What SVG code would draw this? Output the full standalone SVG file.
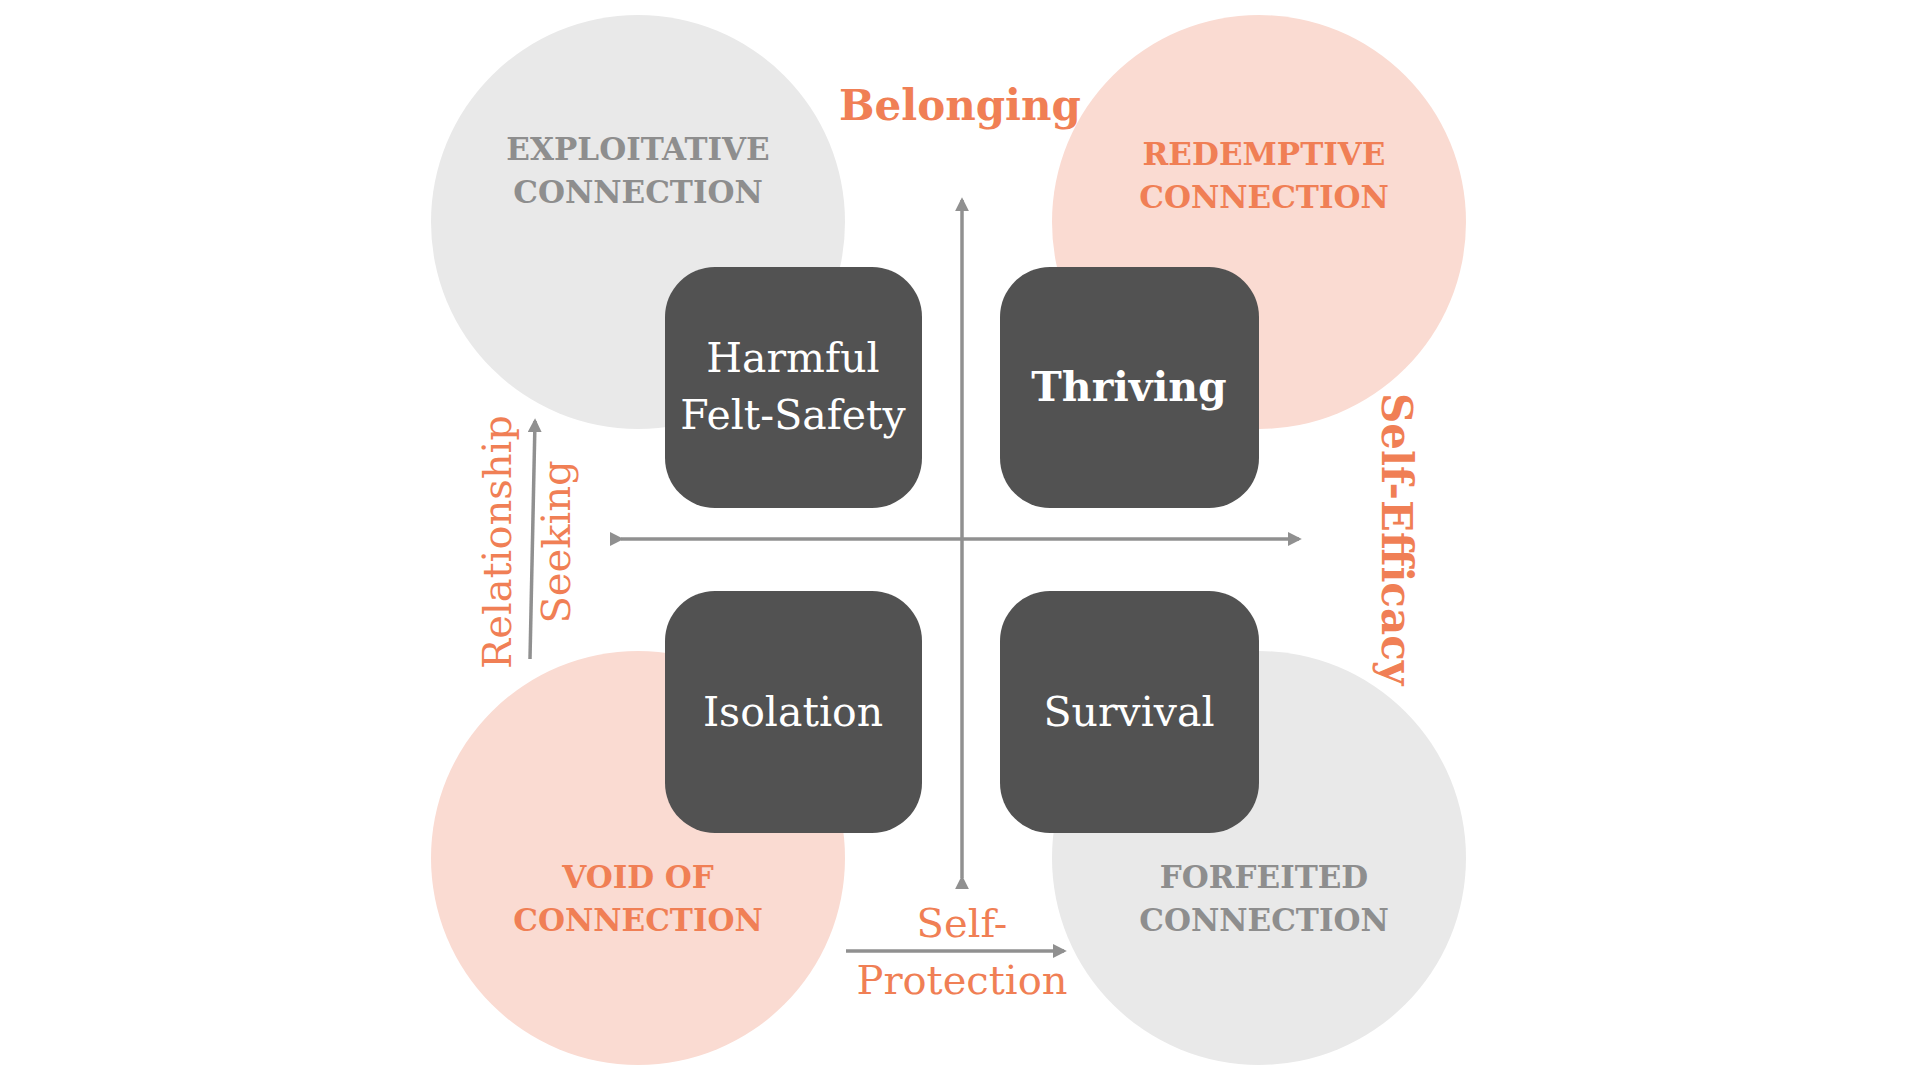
<svg xmlns="http://www.w3.org/2000/svg" width="1920" height="1080" viewBox="0 0 1920 1080">
<style>
.t{font-family:"DejaVu Serif","Liberation Serif",serif;text-anchor:middle}
.o{fill:#F07F55}
.g{fill:#8E8E8E}
.c{font-size:31px;font-weight:bold}
.b{fill:#525252}
.w{fill:#fff;font-size:41px}
.ax{stroke:#909090;stroke-width:3.5;fill:none}
</style>
<defs><marker id="a" viewBox="0 0 10 10" refX="8" refY="5" markerWidth="4" markerHeight="4" orient="auto"><path d="M0,0L10,5L0,10z" fill="#909090"/></marker></defs>
<rect width="1920" height="1080" fill="#fff"/>
<g id="c1"><circle cx="638" cy="222" r="207" fill="#E9E9E9"/><text class="t g c" x="638" y="160">EXPLOITATIVE</text><text class="t g c" x="638" y="203">CONNECTION</text></g>
<g id="c2"><circle cx="1259" cy="222" r="207" fill="#FADBD2"/><text class="t o c" x="1264" y="165">REDEMPTIVE</text><text class="t o c" x="1264" y="208">CONNECTION</text></g>
<g id="c3"><circle cx="638" cy="858" r="207" fill="#FADBD2"/><text class="t o c" x="638" y="888">VOID OF</text><text class="t o c" x="638" y="931">CONNECTION</text></g>
<g id="c4"><circle cx="1259" cy="858" r="207" fill="#E9E9E9"/><text class="t g c" x="1264" y="888">FORFEITED</text><text class="t g c" x="1264" y="931">CONNECTION</text></g>
<g id="connectors">
<line class="ax" x1="962" y1="878" x2="962" y2="200" marker-end="url(#a)" marker-start="url(#a)"/>
<line class="ax" x1="621" y1="539" x2="1299" y2="539" marker-end="url(#a)" marker-start="url(#a)"/>
<line class="ax" x1="530" y1="659" x2="535" y2="421" marker-end="url(#a)"/>
<line class="ax" x1="846" y1="951" x2="1064" y2="951" marker-end="url(#a)"/>
</g>
<g id="n1"><rect class="b" x="665" y="267" width="257" height="241" rx="50"/><text class="t w" x="793" y="372">Harmful</text><text class="t w" x="793" y="429">Felt-Safety</text></g>
<g id="n2"><rect class="b" x="1000" y="267" width="259" height="241" rx="50"/><text class="t w" x="1129" y="401" font-weight="bold">Thriving</text></g>
<g id="n3"><rect class="b" x="665" y="591" width="257" height="242" rx="50"/><text class="t w" x="793" y="726">Isolation</text></g>
<g id="n4"><rect class="b" x="1000" y="591" width="259" height="242" rx="50"/><text class="t w" x="1129" y="726">Survival</text></g>
<text class="t o" x="960" y="120" font-size="42" font-weight="bold">Belonging</text>
<text class="t o" transform="translate(1382 539) rotate(90)" font-size="42" font-weight="bold">Self-Efficacy</text>
<text class="t o" transform="translate(511 542) rotate(-90)" font-size="40">Relationship</text>
<text class="t o" transform="translate(570 542) rotate(-90)" font-size="40">Seeking</text>
<text class="t o" x="962" y="937" font-size="40">Self-</text>
<text class="t o" x="962" y="994" font-size="40">Protection</text>
</svg>
